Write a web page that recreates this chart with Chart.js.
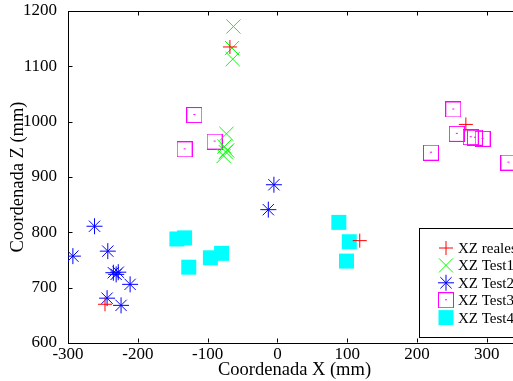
<!DOCTYPE html>
<html>
<head>
<meta charset="utf-8">
<script src="https://cdn.jsdelivr.net/npm/chart.js@4.4.1/dist/chart.umd.min.js"></script>
<style>
html,body{margin:0;padding:0;background:#fff;overflow:hidden;}
#wrap{position:relative;width:513px;height:381px;overflow:hidden;}
#chart{position:absolute;left:0;top:0;width:522px;height:381px;display:block;}
</style>
</head>
<body>
<div id="wrap"><canvas id="chart" width="522" height="381"></canvas></div>
<script>
// ---------- DATA ----------
const realesX = [-68, -247, 270, 118];
const realesZ = [1135, 670, 995, 785];

const test1X = [-63, -65, -64, -73, -76, -74, -77, -72];
const test1Z = [1172, 1133, 1113, 978, 955, 945, 938, 948];

const test2X = [-293, -262, -243, -235, -231, -228, -211, -244, -224, -5, -13];
const test2Z = [757, 811, 766, 727, 724, 728, 706, 681, 668, 886, 841];

const test3X = [-119, -133, -90, 252, 257, 277, 283, 294, 220, 331];
const test3Z = [1012, 950, 964, 1022, 978, 972, 971, 969, 944, 926];

const test4X = [-144, -133, -127, -96, -80, 88, 103, 99];
const test4Z = [788, 790, 737, 754, 762, 818, 783, 748];

const xTicks = [-300, -200, -100, 0, 100, 200, 300];
const zTicks = [600, 700, 800, 900, 1000, 1100, 1200];

const labels = ["XZ reales", "XZ Test1", "XZ Test2", "XZ Test3", "XZ Test4"];

function pts(xs, zs){
return xs.map((x,i)=>({x:x, y:zs[i]}));
}

// magenta square with a dot in the middle
const sqDot = document.createElement("canvas");
sqDot.width = 16; sqDot.height = 16;
(function(){
const c = sqDot.getContext("2d");
c.strokeStyle = "#ff00ff";
c.lineWidth = 1;
c.strokeRect(0.5, 0.5, 15, 15);
c.fillStyle = "#ff00ff";
c.fillRect(7, 7, 2, 1);
})();

const FONT = "'Liberation Serif', 'Times New Roman', serif";

// ---------- PLUGINS ----------
const frameTicks = {
id:"frameTicks",
afterDraw(chart){
const {ctx, chartArea:a, scales} = chart;
ctx.save();
ctx.strokeStyle = "#000";
ctx.lineWidth = 1;
const top = Math.round(a.top) + 0.5;
const bot = Math.round(a.bottom) - 0.5;
const left = Math.round(a.left) + 0.5;
ctx.beginPath();
ctx.moveTo(left, top);
ctx.lineTo(a.right, top);
xTicks.forEach(v=>{
const px = Math.round(scales.x.getPixelForValue(v)) + 0.5;
ctx.moveTo(px, top); ctx.lineTo(px, top + 4);
ctx.moveTo(px, bot); ctx.lineTo(px, bot - 4);
});
zTicks.forEach(v=>{
const py = Math.round(scales.y.getPixelForValue(v)) + 0.5;
ctx.moveTo(left, py); ctx.lineTo(left + 4, py);
});
ctx.stroke();
ctx.restore();
}
};

const boxLegend = {
id:"boxLegend",
afterDraw(chart){
const {ctx, chartArea:a} = chart;
const bx = 419.5, bBottom = Math.round(a.bottom) - 5.5, bTop = bBottom - 109;
ctx.save();
ctx.fillStyle = "#fff";
ctx.fillRect(bx, bTop, 140, bBottom - bTop);
ctx.strokeStyle = "#000";
ctx.lineWidth = 1;
ctx.strokeRect(bx, bTop, 140, bBottom - bTop);
chart.data.datasets.forEach((ds,i)=>{
const y = bTop + 19.5 + i * 17.4;
ctx.save();
ctx.strokeStyle = ds.borderColor;
ctx.fillStyle = ds.backgroundColor;
ctx.lineWidth = ds.borderWidth;
Chart.helpers.drawPoint(ctx, {
pointStyle: ds.pointStyle,
radius: ds.pointRadius,
borderWidth: ds.borderWidth,
rotation: 0
}, 446, y);
ctx.restore();
ctx.fillStyle = "#000";
ctx.font = "15px " + FONT;
ctx.textBaseline = "middle";
ctx.textAlign = "left";
ctx.fillText(ds.label, 458, y + 1);
});
ctx.restore();
}
};

// ---------- CHART ----------
const ctx = document.getElementById("chart").getContext("2d");

const chart = new Chart(ctx,{
type:"scatter",
data:{
datasets:[
{
label:labels[0],
data:pts(realesX, realesZ),
pointStyle:"cross",
pointRadius:7,
borderColor:"#ff0000",
backgroundColor:"#ff0000",
borderWidth:1
},
{
label:labels[1],
data:pts(test1X, test1Z),
pointStyle:"crossRot",
pointRadius:10,
borderColor:"#00ff00",
backgroundColor:"#00ff00",
borderWidth:1
},
{
label:labels[2],
data:pts(test2X, test2Z),
pointStyle:"star",
pointRadius:8,
borderColor:"#0000ff",
backgroundColor:"#0000ff",
borderWidth:1
},
{
label:labels[3],
data:pts(test3X, test3Z),
pointStyle:sqDot,
pointRadius:8,
borderColor:"#ff00ff",
backgroundColor:"rgba(0,0,0,0)",
borderWidth:1
},
{
label:labels[4],
data:pts(test4X, test4Z),
pointStyle:"rect",
pointRadius:10.6,
borderColor:"#00ffff",
backgroundColor:"#00ffff",
borderWidth:0
}
]
},
options:{
responsive:false,
animation:false,
events:[],
layout:{autoPadding:false, padding:{top:11, right:1, left:0, bottom:0}},
plugins:{
legend:{display:false},
tooltip:{enabled:false}
},
scales:{
x:{
type:"linear",
min:-300,
max:349,
afterBuildTicks(s){ s.ticks = xTicks.map(v=>({value:v})); },
afterFit(s){ s.height = 38; s.paddingLeft = 0; s.paddingRight = 0; },
grid:{display:false, drawTicks:false},
border:{display:true, color:"#000", width:1},
ticks:{color:"#000", padding:1, maxRotation:0, font:{family:FONT, size:17}, callback:v=>String(v)},
title:{display:true, text:"Coordenada X (mm)", color:"#000", padding:{top:0, bottom:0}, font:{family:FONT, size:18.5}}
},
y:{
type:"linear",
min:600,
max:1200,
afterBuildTicks(s){ s.ticks = zTicks.map(v=>({value:v})); },
afterFit(s){ s.width = 68; s.paddingTop = 0; s.paddingBottom = 0; },
grid:{display:false, drawTicks:false},
border:{display:true, color:"#000", width:1},
ticks:{color:"#000", padding:11, font:{family:FONT, size:17}, callback:v=>String(v)},
title:{display:true, text:"Coordenada Z (mm)", color:"#000", padding:{top:7, bottom:0}, font:{family:FONT, size:18.5}}
}
}
},
plugins:[frameTicks, boxLegend]
});
</script>
</body>
</html>
